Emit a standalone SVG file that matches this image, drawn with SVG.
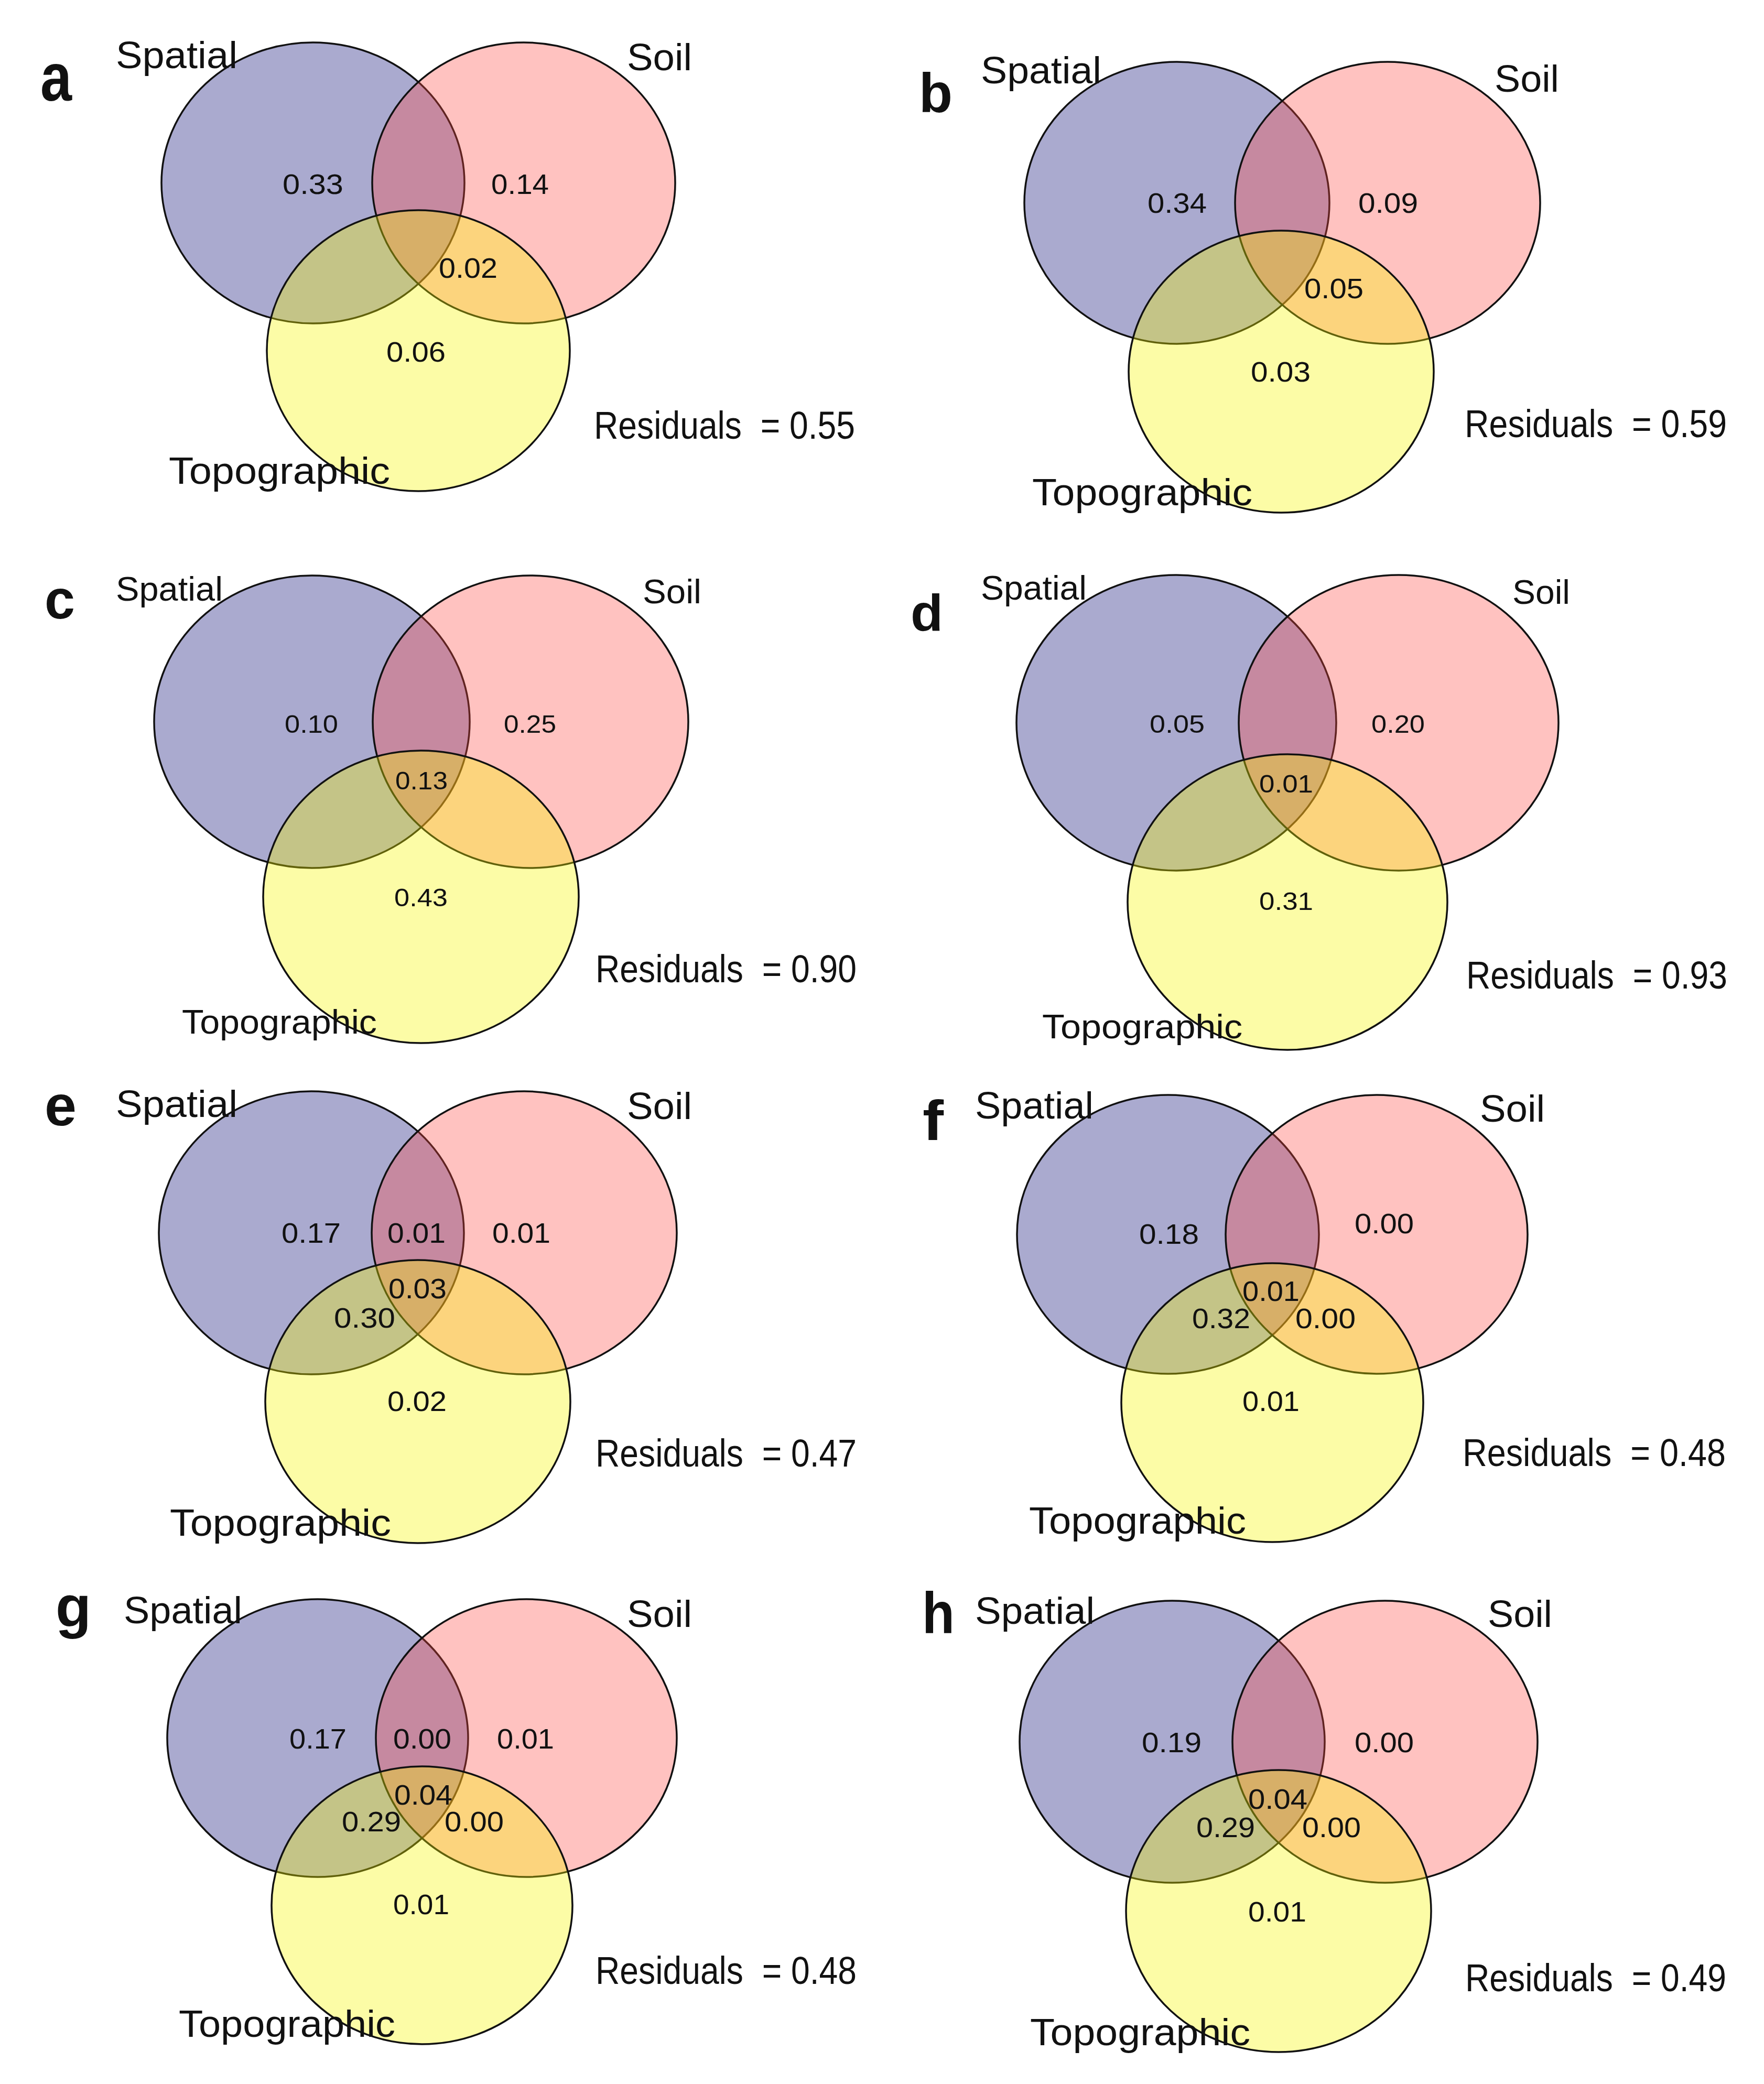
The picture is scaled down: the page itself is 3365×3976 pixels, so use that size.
<svg xmlns="http://www.w3.org/2000/svg" width="3365" height="3976" viewBox="0 0 3365 3976">
<style>
.sp{fill:#000070;fill-opacity:.333;stroke:#111;stroke-width:3.5}
.so{fill:#FF4842;fill-opacity:.333;stroke:#111;stroke-width:3.5}
.tp{fill:#F6F600;fill-opacity:.35;stroke:#111;stroke-width:3.5}
text{font-family:"Liberation Sans",Arial,sans-serif;fill:#111}
.pl{font-weight:bold}
.lab{font-size:72px}
.labs{font-size:64px}
.num{font-size:53px}
.nums{font-size:48px}
.res{font-size:74px;white-space:pre}
</style>
<rect width="3365" height="3976" fill="#fff"/>

<!-- Panel a -->
<g id="panel-a">
<g id="a-spatial"><ellipse class="sp" cx="597" cy="349" rx="289" ry="268"/></g>
<g id="a-soil"><ellipse class="so" cx="999" cy="349" rx="289" ry="268"/></g>
<g id="a-topographic"><ellipse class="tp" cx="798" cy="669" rx="289" ry="268"/></g>
<text class="pl" x="77" y="192" font-size="130" textLength="60" lengthAdjust="spacingAndGlyphs">a</text>
<text class="lab" x="221" y="130" textLength="232" lengthAdjust="spacingAndGlyphs">Spatial</text>
<text class="lab" x="1196" y="134" textLength="124" lengthAdjust="spacingAndGlyphs">Soil</text>
<text class="lab" x="322" y="923" textLength="422" lengthAdjust="spacingAndGlyphs">Topographic</text>
<text class="num" x="539" y="370" textLength="116" lengthAdjust="spacingAndGlyphs">0.33</text>
<text class="num" x="937" y="370" textLength="110" lengthAdjust="spacingAndGlyphs">0.14</text>
<text class="num" x="837" y="530" textLength="112" lengthAdjust="spacingAndGlyphs">0.02</text>
<text class="num" x="737" y="690" textLength="113" lengthAdjust="spacingAndGlyphs">0.06</text>
<text class="res" x="1133" y="837" textLength="498" lengthAdjust="spacingAndGlyphs">Residuals  = 0.55</text>
</g>

<!-- Panel b -->
<g id="panel-b">
<g id="b-spatial"><ellipse class="sp" cx="2245" cy="387" rx="291" ry="269"/></g>
<g id="b-soil"><ellipse class="so" cx="2647" cy="387" rx="291" ry="269"/></g>
<g id="b-topographic"><ellipse class="tp" cx="2444" cy="709" rx="291" ry="269"/></g>
<text class="pl" x="1753" y="214" font-size="105" textLength="64" lengthAdjust="spacingAndGlyphs">b</text>
<text class="lab" x="1871" y="159" textLength="230" lengthAdjust="spacingAndGlyphs">Spatial</text>
<text class="lab" x="2851" y="175" textLength="123" lengthAdjust="spacingAndGlyphs">Soil</text>
<text class="lab" x="1969" y="964" textLength="420" lengthAdjust="spacingAndGlyphs">Topographic</text>
<text class="num" x="2189" y="406" textLength="113" lengthAdjust="spacingAndGlyphs">0.34</text>
<text class="num" x="2591" y="406" textLength="114" lengthAdjust="spacingAndGlyphs">0.09</text>
<text class="num" x="2488" y="569" textLength="113" lengthAdjust="spacingAndGlyphs">0.05</text>
<text class="num" x="2386" y="728" textLength="114" lengthAdjust="spacingAndGlyphs">0.03</text>
<text class="res" x="2794" y="834" textLength="500" lengthAdjust="spacingAndGlyphs">Residuals  = 0.59</text>
</g>

<!-- Panel c -->
<g id="panel-c">
<g id="c-spatial"><ellipse class="sp" cx="595" cy="1377" rx="301" ry="279"/></g>
<g id="c-soil"><ellipse class="so" cx="1012" cy="1377" rx="301" ry="279"/></g>
<g id="c-topographic"><ellipse class="tp" cx="803" cy="1711" rx="301" ry="279"/></g>
<text class="pl" x="85" y="1180" font-size="105" textLength="58" lengthAdjust="spacingAndGlyphs">c</text>
<text class="labs" x="221" y="1146" textLength="204" lengthAdjust="spacingAndGlyphs">Spatial</text>
<text class="labs" x="1226" y="1151" textLength="112" lengthAdjust="spacingAndGlyphs">Soil</text>
<text class="labs" x="347" y="1972" textLength="372" lengthAdjust="spacingAndGlyphs">Topographic</text>
<text class="nums" x="543" y="1398" textLength="102" lengthAdjust="spacingAndGlyphs">0.10</text>
<text class="nums" x="961" y="1398" textLength="100" lengthAdjust="spacingAndGlyphs">0.25</text>
<text class="nums" x="754" y="1506" textLength="100" lengthAdjust="spacingAndGlyphs">0.13</text>
<text class="nums" x="752" y="1729" textLength="102" lengthAdjust="spacingAndGlyphs">0.43</text>
<text class="res" x="1136" y="1874" textLength="498" lengthAdjust="spacingAndGlyphs">Residuals  = 0.90</text>
</g>

<!-- Panel d -->
<g id="panel-d">
<g id="d-spatial"><ellipse class="sp" cx="2244" cy="1379" rx="305" ry="282"/></g>
<g id="d-soil"><ellipse class="so" cx="2668" cy="1379" rx="305" ry="282"/></g>
<g id="d-topographic"><ellipse class="tp" cx="2456" cy="1721" rx="305" ry="282"/></g>
<text class="pl" x="1737" y="1203" font-size="98" textLength="62" lengthAdjust="spacingAndGlyphs">d</text>
<text class="labs" x="1871" y="1144" textLength="202" lengthAdjust="spacingAndGlyphs">Spatial</text>
<text class="labs" x="2885" y="1152" textLength="110" lengthAdjust="spacingAndGlyphs">Soil</text>
<text class="labs" x="1988" y="1981" textLength="382" lengthAdjust="spacingAndGlyphs">Topographic</text>
<text class="nums" x="2193" y="1398" textLength="105" lengthAdjust="spacingAndGlyphs">0.05</text>
<text class="nums" x="2616" y="1398" textLength="102" lengthAdjust="spacingAndGlyphs">0.20</text>
<text class="nums" x="2402" y="1512" textLength="103" lengthAdjust="spacingAndGlyphs">0.01</text>
<text class="nums" x="2402" y="1736" textLength="103" lengthAdjust="spacingAndGlyphs">0.31</text>
<text class="res" x="2797" y="1886" textLength="498" lengthAdjust="spacingAndGlyphs">Residuals  = 0.93</text>
</g>

<!-- Panel e -->
<g id="panel-e">
<g id="e-spatial"><ellipse class="sp" cx="594" cy="2352" rx="291" ry="270"/></g>
<g id="e-soil"><ellipse class="so" cx="1000" cy="2352" rx="291" ry="270"/></g>
<g id="e-topographic"><ellipse class="tp" cx="797" cy="2674" rx="291" ry="270"/></g>
<text class="pl" x="85" y="2147" font-size="110" textLength="61" lengthAdjust="spacingAndGlyphs">e</text>
<text class="lab" x="221" y="2131" textLength="232" lengthAdjust="spacingAndGlyphs">Spatial</text>
<text class="lab" x="1196" y="2135" textLength="124" lengthAdjust="spacingAndGlyphs">Soil</text>
<text class="lab" x="324" y="2930" textLength="422" lengthAdjust="spacingAndGlyphs">Topographic</text>
<text class="num" x="537" y="2371" textLength="113" lengthAdjust="spacingAndGlyphs">0.17</text>
<text class="num" x="739" y="2371" textLength="111" lengthAdjust="spacingAndGlyphs">0.01</text>
<text class="num" x="939" y="2371" textLength="111" lengthAdjust="spacingAndGlyphs">0.01</text>
<text class="num" x="741" y="2477" textLength="111" lengthAdjust="spacingAndGlyphs">0.03</text>
<text class="num" x="637" y="2533" textLength="117" lengthAdjust="spacingAndGlyphs">0.30</text>
<text class="num" x="739" y="2692" textLength="113" lengthAdjust="spacingAndGlyphs">0.02</text>
<text class="res" x="1136" y="2798" textLength="498" lengthAdjust="spacingAndGlyphs">Residuals  = 0.47</text>
</g>

<!-- Panel f -->
<g id="panel-f">
<g id="f-spatial"><ellipse class="sp" cx="2228" cy="2355" rx="288" ry="266"/></g>
<g id="f-soil"><ellipse class="so" cx="2626" cy="2355" rx="288" ry="266"/></g>
<g id="f-topographic"><ellipse class="tp" cx="2427" cy="2676" rx="288" ry="266"/></g>
<text class="pl" x="1760" y="2175" font-size="108" textLength="40" lengthAdjust="spacingAndGlyphs">f</text>
<text class="lab" x="1860" y="2134" textLength="226" lengthAdjust="spacingAndGlyphs">Spatial</text>
<text class="lab" x="2823" y="2140" textLength="124" lengthAdjust="spacingAndGlyphs">Soil</text>
<text class="lab" x="1963" y="2926" textLength="414" lengthAdjust="spacingAndGlyphs">Topographic</text>
<text class="num" x="2173" y="2373" textLength="114" lengthAdjust="spacingAndGlyphs">0.18</text>
<text class="num" x="2584" y="2353" textLength="113" lengthAdjust="spacingAndGlyphs">0.00</text>
<text class="num" x="2370" y="2482" textLength="109" lengthAdjust="spacingAndGlyphs">0.01</text>
<text class="num" x="2274" y="2534" textLength="111" lengthAdjust="spacingAndGlyphs">0.32</text>
<text class="num" x="2471" y="2534" textLength="115" lengthAdjust="spacingAndGlyphs">0.00</text>
<text class="num" x="2370" y="2692" textLength="109" lengthAdjust="spacingAndGlyphs">0.01</text>
<text class="res" x="2790" y="2797" textLength="502" lengthAdjust="spacingAndGlyphs">Residuals  = 0.48</text>
</g>

<!-- Panel g -->
<g id="panel-g">
<g id="g-spatial"><ellipse class="sp" cx="606" cy="3316" rx="287" ry="265"/></g>
<g id="g-soil"><ellipse class="so" cx="1004" cy="3316" rx="287" ry="265"/></g>
<g id="g-topographic"><ellipse class="tp" cx="805" cy="3635" rx="287" ry="265"/></g>
<text class="pl" x="106" y="3104" font-size="112" textLength="68" lengthAdjust="spacingAndGlyphs">g</text>
<text class="lab" x="236" y="3097" textLength="226" lengthAdjust="spacingAndGlyphs">Spatial</text>
<text class="lab" x="1196" y="3104" textLength="124" lengthAdjust="spacingAndGlyphs">Soil</text>
<text class="lab" x="341" y="3886" textLength="413" lengthAdjust="spacingAndGlyphs">Topographic</text>
<text class="num" x="552" y="3336" textLength="109" lengthAdjust="spacingAndGlyphs">0.17</text>
<text class="num" x="750" y="3336" textLength="111" lengthAdjust="spacingAndGlyphs">0.00</text>
<text class="num" x="948" y="3336" textLength="109" lengthAdjust="spacingAndGlyphs">0.01</text>
<text class="num" x="752" y="3443" textLength="111" lengthAdjust="spacingAndGlyphs">0.04</text>
<text class="num" x="652" y="3494" textLength="113" lengthAdjust="spacingAndGlyphs">0.29</text>
<text class="num" x="848" y="3494" textLength="113" lengthAdjust="spacingAndGlyphs">0.00</text>
<text class="num" x="750" y="3652" textLength="107" lengthAdjust="spacingAndGlyphs">0.01</text>
<text class="res" x="1136" y="3785" textLength="498" lengthAdjust="spacingAndGlyphs">Residuals  = 0.48</text>
</g>

<!-- Panel h -->
<g id="panel-h">
<g id="h-spatial"><ellipse class="sp" cx="2236" cy="3323" rx="291" ry="269"/></g>
<g id="h-soil"><ellipse class="so" cx="2642" cy="3323" rx="291" ry="269"/></g>
<g id="h-topographic"><ellipse class="tp" cx="2439" cy="3646" rx="291" ry="269"/></g>
<text class="pl" x="1759" y="3116" font-size="112" textLength="62" lengthAdjust="spacingAndGlyphs">h</text>
<text class="lab" x="1860" y="3098" textLength="228" lengthAdjust="spacingAndGlyphs">Spatial</text>
<text class="lab" x="2838" y="3104" textLength="123" lengthAdjust="spacingAndGlyphs">Soil</text>
<text class="lab" x="1965" y="3902" textLength="420" lengthAdjust="spacingAndGlyphs">Topographic</text>
<text class="num" x="2178" y="3343" textLength="114" lengthAdjust="spacingAndGlyphs">0.19</text>
<text class="num" x="2584" y="3343" textLength="113" lengthAdjust="spacingAndGlyphs">0.00</text>
<text class="num" x="2381" y="3451" textLength="113" lengthAdjust="spacingAndGlyphs">0.04</text>
<text class="num" x="2282" y="3505" textLength="112" lengthAdjust="spacingAndGlyphs">0.29</text>
<text class="num" x="2484" y="3505" textLength="112" lengthAdjust="spacingAndGlyphs">0.00</text>
<text class="num" x="2381" y="3666" textLength="111" lengthAdjust="spacingAndGlyphs">0.01</text>
<text class="res" x="2795" y="3799" textLength="498" lengthAdjust="spacingAndGlyphs">Residuals  = 0.49</text>
</g>
</svg>
